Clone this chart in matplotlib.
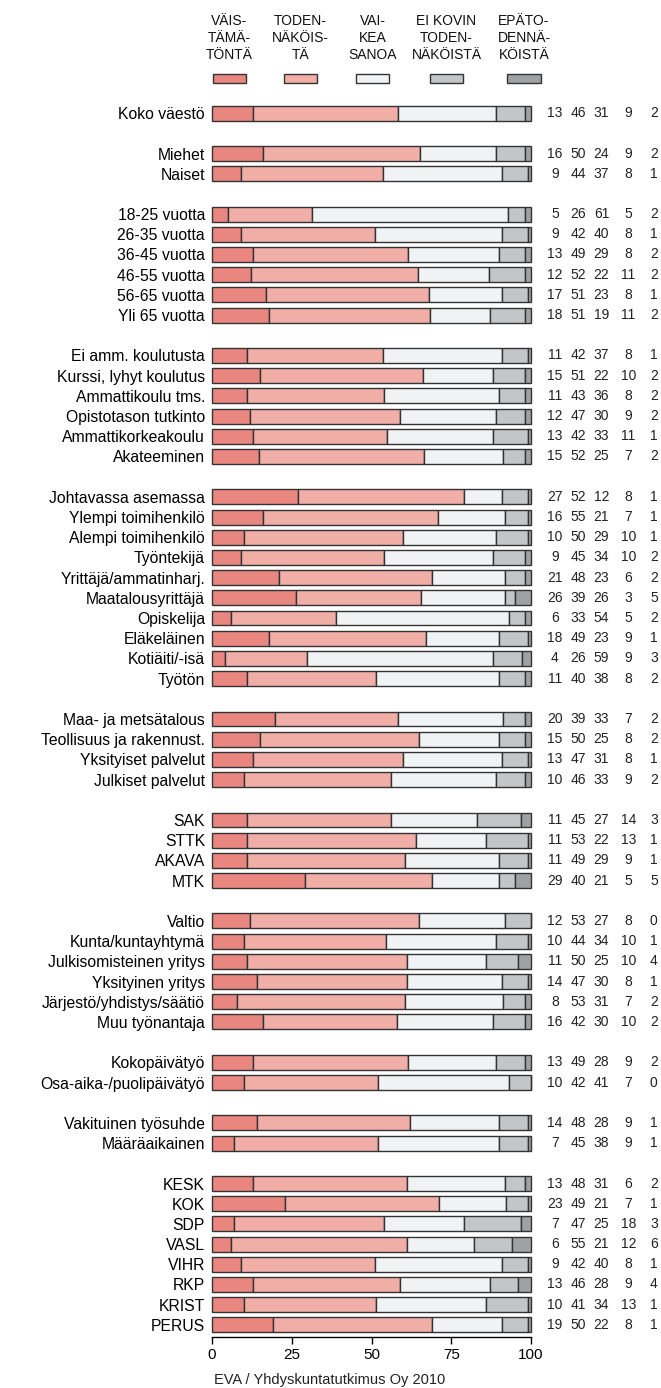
import numpy as np
import matplotlib
matplotlib.use('Agg')
import matplotlib.pyplot as plt
from matplotlib.patches import Rectangle

plt.rcParams['font.family'] = ['Liberation Sans', 'DejaVu Sans']

# Kategoriat (None = tyhjä rivi ryhmien välissä)
labels = [
    'Koko väestö', None,
    'Miehet', 'Naiset', None,
    '18-25 vuotta', '26-35 vuotta', '36-45 vuotta', '46-55 vuotta', '56-65 vuotta', 'Yli 65 vuotta', None,
    'Ei amm. koulutusta', 'Kurssi, lyhyt koulutus', 'Ammattikoulu tms.', 'Opistotason tutkinto',
    'Ammattikorkeakoulu', 'Akateeminen', None,
    'Johtavassa asemassa', 'Ylempi toimihenkilö', 'Alempi toimihenkilö', 'Työntekijä',
    'Yrittäjä/ammatinharj.', 'Maatalousyrittäjä', 'Opiskelija', 'Eläkeläinen', 'Kotiäiti/-isä', 'Työtön', None,
    'Maa- ja metsätalous', 'Teollisuus ja rakennust.', 'Yksityiset palvelut', 'Julkiset palvelut', None,
    'SAK', 'STTK', 'AKAVA', 'MTK', None,
    'Valtio', 'Kunta/kuntayhtymä', 'Julkisomisteinen yritys', 'Yksityinen yritys',
    'Järjestö/yhdistys/säätiö', 'Muu työnantaja', None,
    'Kokopäivätyö', 'Osa-aika-/puolipäivätyö', None,
    'Vakituinen työsuhde', 'Määräaikainen', None,
    'KESK', 'KOK', 'SDP', 'VASL', 'VIHR', 'RKP', 'KRIST', 'PERUS',
]

vaistamatonta = [13, None, 16, 9, None, 5, 9, 13, 12, 17, 18, None, 11, 15, 11, 12, 13, 15, None,
                 27, 16, 10, 9, 21, 26, 6, 18, 4, 11, None, 20, 15, 13, 10, None, 11, 11, 11, 29, None,
                 12, 10, 11, 14, 8, 16, None, 13, 10, None, 14, 7, None, 13, 23, 7, 6, 9, 13, 10, 19]
todennakoista = [46, None, 50, 44, None, 26, 42, 49, 52, 51, 51, None, 42, 51, 43, 47, 42, 52, None,
                 52, 55, 50, 45, 48, 39, 33, 49, 26, 40, None, 39, 50, 47, 46, None, 45, 53, 49, 40, None,
                 53, 44, 50, 47, 53, 42, None, 49, 42, None, 48, 45, None, 48, 49, 47, 55, 42, 46, 41, 50]
vaikea_sanoa = [31, None, 24, 37, None, 61, 40, 29, 22, 23, 19, None, 37, 22, 36, 30, 33, 25, None,
                12, 21, 29, 34, 23, 26, 54, 23, 59, 38, None, 33, 25, 31, 33, None, 27, 22, 29, 21, None,
                27, 34, 25, 30, 31, 30, None, 28, 41, None, 28, 38, None, 31, 21, 25, 21, 40, 28, 34, 22]
ei_kovin = [9, None, 9, 8, None, 5, 8, 8, 11, 8, 11, None, 8, 10, 8, 9, 11, 7, None,
            8, 7, 10, 10, 6, 3, 5, 9, 9, 8, None, 7, 8, 8, 9, None, 14, 13, 9, 5, None,
            8, 10, 10, 8, 7, 10, None, 9, 7, None, 9, 9, None, 6, 7, 18, 12, 8, 9, 13, 8]
epatodennakoista = [2, None, 2, 1, None, 2, 1, 2, 2, 1, 2, None, 1, 2, 2, 2, 1, 2, None,
                    1, 1, 1, 2, 2, 5, 2, 1, 3, 2, None, 2, 2, 1, 2, None, 3, 1, 1, 5, None,
                    0, 1, 4, 1, 2, 2, None, 2, 0, None, 1, 1, None, 2, 1, 3, 6, 1, 4, 1, 1]

series = [vaistamatonta, todennakoista, vaikea_sanoa, ei_kovin, epatodennakoista]
legend_labels = ['VÄIS-\nTÄMÄ-\nTÖNTÄ', 'TODEN-\nNÄKÖIS-\nTÄ', 'VAI-\nKEA\nSANOA',
                 'EI KOVIN\nTODEN-\nNÄKÖISTÄ', 'EPÄTO-\nDENNÄ-\nKÖISTÄ']
colors = ['#E8867F', '#F0AEA7', '#F1F2F4', '#C4C5C7', '#A0A1A3']
edge = '#333333'

W, H = 661, 1388
fig = plt.figure(figsize=(W / 100, H / 100), dpi=100)
ax = fig.add_axes([212 / W, 1 - 1337 / H, 319 / W, (1337 - 101) / H])

rows = [i for i, lab in enumerate(labels) if lab is not None]
data = np.array([[s[i] for s in series] for i in rows], dtype=float)
norm = data / data.sum(axis=1, keepdims=True) * 100
y = np.array(rows)

left = np.zeros(len(rows))
for k in range(5):
    ax.barh(y, norm[:, k], left=left, height=0.74, color=colors[k],
            edgecolor=edge, linewidth=1.0, clip_on=False)
    left += norm[:, k]

# luvut oikealla
num_x = [107.5, 114.9, 122.1, 130.6, 138.5]
for r, vals in zip(y, data):
    for k in range(5):
        ax.text(num_x[k], r, '%d' % vals[k], ha='center', va='center',
                fontsize=10, color='#222222', clip_on=False)

ax.set_xlim(0, 100)
ax.set_ylim(60.6, -0.6)
ax.set_yticks(y)
ax.set_yticklabels([labels[i] for i in rows], fontsize=11.3)
ax.tick_params(axis='y', length=0, pad=5)
ax.set_xticks([0, 25, 50, 75, 100])
ax.tick_params(axis='x', length=5, width=1, labelsize=11, pad=3)
for s in ['top', 'right', 'left']:
    ax.spines[s].set_visible(False)
ax.spines['bottom'].set_linewidth(1)

# selite ylhäällä
box_cx = [229.5, 300.5, 372.5, 446.5, 524]
for cx, lab, c in zip(box_cx, legend_labels, colors):
    fig.text(cx / W, 1 - 14 / H, lab, ha='center', va='top', fontsize=10,
             linespacing=1.28, color='#111111')
    fig.add_artist(Rectangle(((cx - 16.5) / W, 1 - 83 / H), 33 / W, 9 / H,
                             facecolor=c, edgecolor=edge, linewidth=1,
                             transform=fig.transFigure))

fig.text(330 / W, 1 - 1380 / H, 'EVA / Yhdyskuntatutkimus Oy 2010', ha='center',
         va='center', fontsize=10.5, color='#222222')

fig.savefig('out.png', dpi=100)
